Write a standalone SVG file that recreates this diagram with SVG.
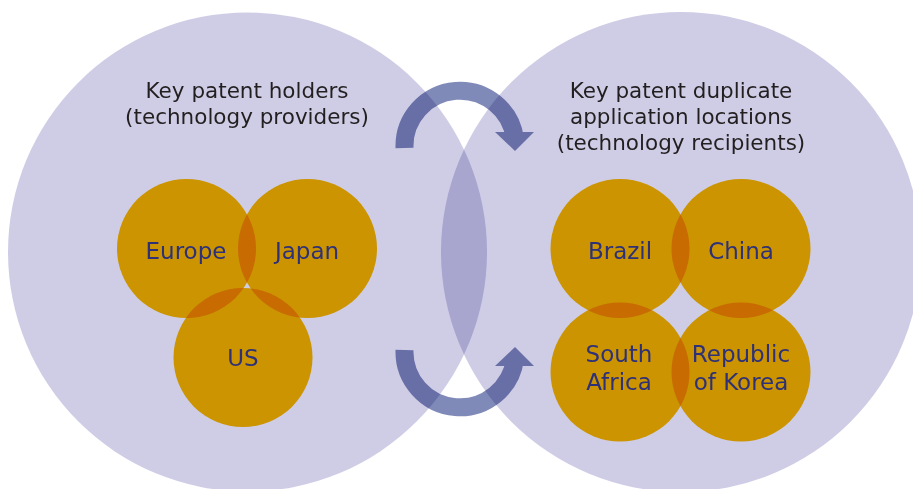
<svg xmlns="http://www.w3.org/2000/svg" width="913" height="489" viewBox="0 0 913 489">
<style>
.big{fill:#cfcde6;mix-blend-mode:multiply}
.dot{fill:#fbb800;mix-blend-mode:multiply}
.arr{fill:none;stroke:#808ab8;stroke-width:18}
.head{fill:#808ab8}
.arrow{mix-blend-mode:multiply}
.title{font-family:"DejaVu Sans","Liberation Sans",sans-serif;font-size:21.5px;fill:#231f20;text-anchor:middle}
.lbl{font-family:"DejaVu Sans","Liberation Sans",sans-serif;font-size:23px;fill:#2e3178;text-anchor:middle}
</style>
<rect width="913" height="489" fill="#ffffff"/>
<g id="providers">
<circle class="big" cx="247.5" cy="252" r="239.5"/>
<text class="title" x="247" y="98">Key patent holders</text>
<text class="title" x="247" y="124">(technology providers)</text>
</g>
<g id="recipients">
<circle class="big" cx="681" cy="252" r="240"/>
<text class="title" x="681" y="98">Key patent duplicate</text>
<text class="title" x="681" y="124">application locations</text>
<text class="title" x="681" y="150">(technology recipients)</text>
</g>
<g id="europe"><circle class="dot" cx="186.5" cy="248.5" r="69.5"/></g>
<g id="japan"><circle class="dot" cx="307.5" cy="248.5" r="69.5"/></g>
<g id="us"><circle class="dot" cx="243" cy="357.5" r="69.5"/></g>
<g id="brazil"><circle class="dot" cx="620" cy="248.5" r="69.5"/></g>
<g id="china"><circle class="dot" cx="741" cy="248.5" r="69.5"/></g>
<g id="southafrica"><circle class="dot" cx="620" cy="372" r="69.5"/></g>
<g id="korea"><circle class="dot" cx="741" cy="372" r="69.5"/></g>
<g id="labels">
<text class="lbl" x="186" y="259">Europe</text>
<text class="lbl" x="307" y="259">Japan</text>
<text class="lbl" x="243" y="366">US</text>
<text class="lbl" x="620" y="259">Brazil</text>
<text class="lbl" x="741" y="259">China</text>
<text class="lbl" x="619" y="362">South</text>
<text class="lbl" x="619" y="390">Africa</text>
<text class="lbl" x="741" y="362">Republic</text>
<text class="lbl" x="741" y="390">of Korea</text>
</g>
<g id="connectors">
<g class="arrow">
<path class="arr" d="M404.5,148 A55.5,55.5 0 0 1 515,139"/>
<polygon class="head" points="495,132 534,132 515,151"/>
</g>
<g class="arrow">
<path class="arr" d="M404.5,350 A55.5,55.5 0 0 0 515,359"/>
<polygon class="head" points="495,366 534,366 515,347"/>
</g>
</g>
</svg>
